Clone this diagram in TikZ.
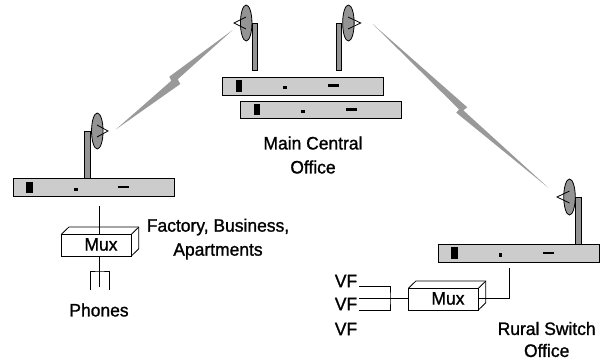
\documentclass[tikz,border=0pt]{standalone}
\usepackage{fontspec}
\usepackage{tikz}
\setmainfont{Liberation Sans}[FakeBold=1.2, FakeStretch=0.97]
\tikzset{
  radiobox/.style={draw, line width=1pt, fill=black!20, minimum width=161pt, minimum height=17.5pt, inner sep=0pt, outer sep=0pt},
  mast/.style={draw, line width=0.8pt, fill=black!42, minimum width=5.5pt, minimum height=47pt, inner sep=0pt, outer sep=0pt},
  dish/.style={draw, line width=0.8pt, fill=black!42, ellipse, minimum width=11.5pt, minimum height=36pt, inner sep=0pt, outer sep=0pt},
  muxbox/.style={draw, line width=0.8pt, fill=white, minimum width=70pt, minimum height=21.7pt, inner sep=0pt, outer sep=0pt},
  lamp/.style={fill=black, inner sep=0pt, outer sep=0pt},
  wire/.style={line width=0.8pt},
  bolt/.style={fill=black!40},
  lbl/.style={font=\fontsize{18}{24}\selectfont, align=center, inner sep=0pt}
}
\usetikzlibrary{shapes.geometric}
\begin{document}
\begin{tikzpicture}[x=1pt, y=-1pt]
  \useasboundingbox (0,0) rectangle (605,360);
  % radio links
  \fill[bolt] (232.7,30) -- (177.7,79.3) -- (180.3,84) -- (116,129.3) -- (171.3,80.7) -- (169.3,76.7) -- cycle;
  \fill[bolt] (372.7,24) -- (467.3,107.3) -- (463.3,110.3) -- (548.3,187.7) -- (456.3,112.7) -- (459,109.3) -- cycle;

  % factory site
  \node[mast] (mastF) at (87.5,155) {};
  \node[dish] (dishF) at (97.3,131) {};
  \coordinate (feedF) at (108,131);
  \draw[wire] (97,125) -- (feedF) -- (97,137);
  \node[radiobox] (radioF) at (93.5,187.5) {};
  \node[lamp, minimum width=6.5pt, minimum height=11.5pt] (barF) at (29.7,187.3) {};
  \node[lamp, minimum width=3.5pt, minimum height=3.5pt] (dotF) at (75.8,189.3) {};
  \node[lamp, minimum width=11pt, minimum height=2.5pt] (dashF) at (123.5,187) {};

  % main central office
  \node[mast] (mastA) at (255,47) {};
  \node[dish] (dishA) at (246.2,23) {};
  \coordinate (feedA) at (234,23);
  \draw[wire] (246,17) -- (feedA) -- (246,29);
  \node[mast] (mastB) at (339,47) {};
  \node[dish] (dishB) at (348.4,23) {};
  \coordinate (feedB) at (360.7,23);
  \draw[wire] (348,17) -- (feedB) -- (348,29);
  \node[radiobox] (radioA) at (303.3,86.3) {};
  \node[lamp, minimum width=6.5pt, minimum height=11.5pt] (barA) at (239.2,86) {};
  \node[lamp, minimum width=3.5pt, minimum height=3.5pt] (dotA) at (285.2,87.7) {};
  \node[lamp, minimum width=11pt, minimum height=2.5pt] (dashA) at (333,85.7) {};
  \node[radiobox] (radioB) at (321,110) {};
  \node[lamp, minimum width=6.5pt, minimum height=11.5pt] (barB) at (257,109.7) {};
  \node[lamp, minimum width=3.5pt, minimum height=3.5pt] (dotB) at (303,111.7) {};
  \node[lamp, minimum width=11pt, minimum height=2.5pt] (dashB) at (351,109.3) {};

  % rural site
  \node[mast] (mastR) at (578.4,221) {};
  \node[dish] (dishR) at (569.5,197) {};
  \coordinate (feedR) at (557,197);
  \draw[wire] (569.5,191) -- (feedR) -- (569.5,203);
  \node[radiobox] (radioR) at (518.7,253.7) {};
  \node[lamp, minimum width=6.5pt, minimum height=11.5pt] (barR) at (454.5,253) {};
  \node[lamp, minimum width=3.5pt, minimum height=3.5pt] (dotR) at (500.5,255) {};
  \node[lamp, minimum width=11pt, minimum height=2.5pt] (dashR) at (548,253) {};

  % left mux and phones
  \node[muxbox] (muxL) at (96.3,245.2) {};
  \draw[wire] (muxL.north west) -- ++(7.5,-7.3) -- ++(70,0) -- ++(0,21.7) -- (muxL.south east);
  \draw[wire] (muxL.north east) -- ++(7.5,-7.3);
  \node[lbl] (muxLtext) at (101,244.5) {Mux};
  \coordinate (topL) at (99.5,206);
  \coordinate (forkL) at (99.5,271);
  \coordinate (phoneA) at (90.5,290);
  \coordinate (phoneB) at (99.5,287);
  \coordinate (phoneC) at (109,290);
  \draw[wire] (topL) -- (topL |- muxL.north);
  \draw[wire] (forkL |- muxL.south) -- (phoneB);
  \draw[wire] (phoneA) |- (forkL) -| (phoneC);

  % right mux and VF lines
  \node[muxbox] (muxR) at (443.3,299.2) {};
  \draw[wire] (muxR.north west) -- ++(7.5,-7.3) -- ++(70,0) -- ++(0,21.7) -- (muxR.south east);
  \draw[wire] (muxR.north east) -- ++(7.5,-7.3);
  \node[lbl] (muxRtext) at (448,298.5) {Mux};
  \coordinate (upR) at (509.5,268.3);
  \coordinate (joinV) at (390,298.3);
  \draw[wire] (muxR.east |- joinV) -| (upR);
  \node[lbl] (vfA) at (346,281) {VF};
  \node[lbl] (vfB) at (346,304) {VF};
  \node[lbl] (vfC) at (346,329) {VF};
  \coordinate (vfAend) at (359.3,286);
  \coordinate (vfBend) at (359.3,298.3);
  \coordinate (vfCend) at (359.3,310.7);
  \draw[wire] (vfAend) -| (joinV) |- (vfCend);
  \draw[wire] (vfBend) -- (muxR.west |- joinV);

  % labels
  \node[lbl] (siteF) at (218,239) {Factory, Business,\\Apartments};
  \node[lbl] (phones) at (99,310) {Phones};
  \node[lbl] (siteA) at (313,155) {Main Central\\Office};
  \node[lbl, font=\fontsize{18}{22}\selectfont] (siteR) at (546.7,339.5) {Rural Switch\\Office};
\end{tikzpicture}
\end{document}
